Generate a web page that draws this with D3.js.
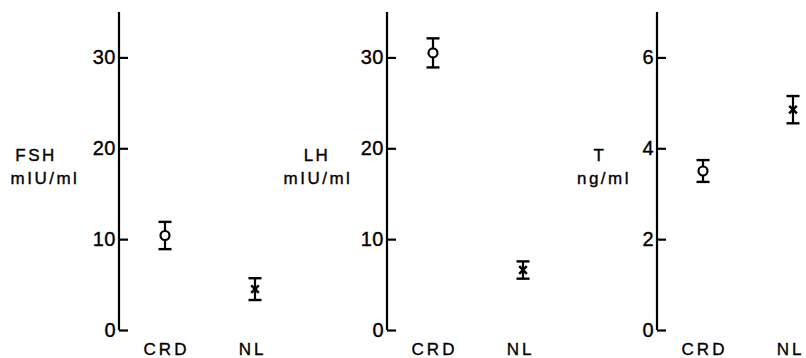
<!DOCTYPE html>
<html><head><meta charset="utf-8">
<script src="https://cdn.jsdelivr.net/npm/d3@7"></script>
<style>
body{margin:0;background:#fff;}
text{font-family:"Liberation Sans",Arial,sans-serif;fill:#000;stroke:#000;stroke-width:0.35px;}
</style></head>
<body><svg id="c" width="806" height="358"></svg>
<script>
const categories = ["CRD", "NL"];
const panelNames = ["FSH", "LH", "T"];
const panelUnits = ["mIU/ml", "mIU/ml", "ng/ml"];
const yMax = [35, 35, 7];
const yTicks = [[0,10,20,30],[0,10,20,30],[0,2,4,6]];
const meanFSH = [10.4, 4.5];
const errFSH = [1.5, 1.2];
const meanLH = [30.5, 6.6];
const errLH = [1.6, 0.95];
const meanT = [3.5, 4.85];
const errT = [0.24, 0.3];

const means = [meanFSH, meanLH, meanT];
const errs = [errFSH, errLH, errT];
const axisX = [119, 387, 657];
const labelPos = [[36,45],[317,318],[600,604]];
const catShift = [1.5, -2.5];

const svg = d3.select("#c");
panelNames.forEach((name, p) => {
  const ax = axisX[p];
  const y = d3.scaleLinear().domain([0, yMax[p]]).range([330, 12]);
  const x = d3.scalePoint().domain(categories).range([ax + 46, ax + 136]);
  const g = svg.append("g");
  const axis = d3.axisRight(y).tickValues(yTicks[p]).tickSize(9).tickFormat("");
  const ag = g.append("g").attr("transform", `translate(${ax},0)`).call(axis);
  ag.select(".domain").attr("d", `M0,${y(yMax[p])}V${y(0)}`).attr("stroke","#000").attr("stroke-width",2.2);
  ag.selectAll(".tick line").attr("stroke","#000").attr("stroke-width",2.2);
  g.selectAll(".tl").data(yTicks[p]).enter().append("text")
    .attr("x", ax - 3).attr("y", d => y(d) + 7)
    .attr("text-anchor","end").attr("font-size",20).attr("letter-spacing",0.5).text(d => d);
  g.selectAll(".cl").data(categories).enter().append("text")
    .attr("x", (d, i) => x(d) + catShift[i]).attr("y", 355).attr("text-anchor","middle")
    .attr("font-size",17).attr("letter-spacing",3).text(d => d);
  g.append("text").attr("x", labelPos[p][0]).attr("y", 161).attr("text-anchor","middle")
    .attr("font-size",17).attr("letter-spacing",2.5).text(name);
  g.append("text").attr("x", labelPos[p][1]).attr("y", 184).attr("text-anchor","middle")
    .attr("font-size",17).attr("letter-spacing",2.5).text(panelUnits[p]);
  categories.forEach((c, i) => {
    const cx = x(c), m = means[p][i], e = errs[p][i];
    const y1 = y(m + e), y2 = y(m - e);
    g.append("line").attr("x1",cx).attr("x2",cx).attr("y1",y1).attr("y2",y2).attr("stroke","#000").attr("stroke-width",2.2);
    [y1,y2].forEach(yy => g.append("line").attr("x1",cx-6.5).attr("x2",cx+6.5).attr("y1",yy).attr("y2",yy).attr("stroke","#000").attr("stroke-width",2.4));
    if (i === 0) {
      g.append("circle").attr("cx",cx).attr("cy",y(m)).attr("r",4.5).attr("fill","#fff").attr("stroke","#000").attr("stroke-width",2.2);
    } else {
      const cy = y(m), s = 3.8;
      g.append("path").attr("d",`M${cx-s},${cy-s}L${cx+s},${cy+s}M${cx+s},${cy-s}L${cx-s},${cy+s}`)
        .attr("stroke","#000").attr("stroke-width",2.5);
    }
  });
});
</script></body></html>
